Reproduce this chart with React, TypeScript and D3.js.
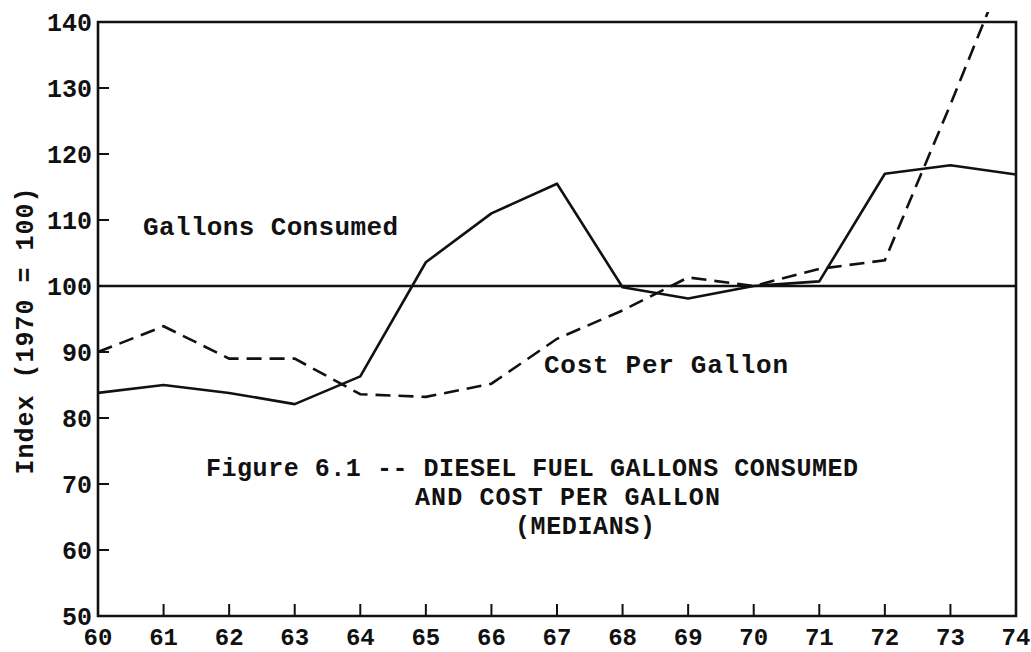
import React from 'react';
import * as d3 from 'd3';

const years = [60, 61, 62, 63, 64, 65, 66, 67, 68, 69, 70, 71, 72, 73, 74];
const gallons = [83.8, 85.0, 83.8, 82.1, 86.3, 103.6, 111.0, 115.5, 99.8, 98.1, 100.0, 100.7, 117.0, 118.3, 116.9];
const costPerGallon = [90.0, 93.9, 89.0, 89.0, 83.6, 83.2, 85.2, 92.0, 96.3, 101.3, 100.0, 102.6, 103.9, 127.5, 152.0];
const yTicks = [50, 60, 70, 80, 90, 100, 110, 120, 130, 140];
const captionLines = [
  'Figure 6.1 -- DIESEL FUEL GALLONS CONSUMED',
  'AND COST PER GALLON',
  '(MEDIANS)',
];

const W = 1031;
const H = 652;
const left = 98, right = 1016, top = 22, bottom = 616;
const font = '"Liberation Mono", "DejaVu Sans Mono", monospace';

export default function App() {
  const x = d3.scaleLinear().domain([60, 74]).range([left, right]);
  const y = d3.scaleLinear().domain([50, 140]).range([bottom, top]);

  const line = d3.line<number>()
    .x((d, i) => x(years[i]))
    .y(d => y(d));

  return (
    <svg width={W} height={H} style={{ position: 'absolute', left: 0, top: 0, background: '#fff' }}>
      <defs>
        <clipPath id="plot">
          <rect x={left} y={top - 10} width={right - left} height={bottom - top + 10} />
        </clipPath>
      </defs>

      {/* frame */}
      <path d={`M${left},${top}H${right}V${bottom}H${left}Z`} fill="none" stroke="#111" strokeWidth={2.6} />

      {/* y ticks */}
      {yTicks.map(t => (
        <g key={t}>
          {t > 50 && t < 140 && <line x1={left} x2={left + 11} y1={y(t)} y2={y(t)} stroke="#111" strokeWidth={2} />}
          <text x={92} y={y(t)} dy="0.35em" textAnchor="end" fontFamily={font} fontWeight="bold" fontSize={25} fill="#111">{t}</text>
        </g>
      ))}

      {/* x ticks */}
      {years.map(t => (
        <g key={t}>
          {t > 60 && t < 74 && <line x1={x(t)} x2={x(t)} y1={bottom} y2={bottom - 12} stroke="#111" strokeWidth={2} />}
          <text x={x(t)} y={645} textAnchor="middle" fontFamily={font} fontWeight="bold" fontSize={24} fill="#111">{t}</text>
        </g>
      ))}

      {/* 1970 = 100 reference */}
      <line x1={left} x2={right} y1={y(100)} y2={y(100)} stroke="#111" strokeWidth={2.6} />

      <g clipPath="url(#plot)">
        <path d={line(gallons) || ''} fill="none" stroke="#111" strokeWidth={2.6} strokeLinejoin="round" />
        <path d={line(costPerGallon) || ''} fill="none" stroke="#111" strokeWidth={2.6} strokeDasharray="15 8" />
      </g>

      <text x={143} y={235} fontFamily={font} fontWeight="bold" fontSize={26} fill="#111" textLength={255} lengthAdjust="spacing">Gallons Consumed</text>
      <text x={544} y={373} fontFamily={font} fontWeight="bold" fontSize={26} fill="#111" textLength={244} lengthAdjust="spacing">Cost Per Gallon</text>

      <text x={206} y={476} fontFamily={font} fontWeight="bold" fontSize={25} fill="#111" textLength={652} lengthAdjust="spacing">{captionLines[0]}</text>
      <text x={415} y={505} fontFamily={font} fontWeight="bold" fontSize={25} fill="#111" textLength={305} lengthAdjust="spacing">{captionLines[1]}</text>
      <text x={515} y={534} fontFamily={font} fontWeight="bold" fontSize={25} fill="#111" textLength={140} lengthAdjust="spacing">{captionLines[2]}</text>

      <text transform="translate(33,331) rotate(-90)" textAnchor="middle" fontFamily={font} fontWeight="bold" fontSize={25} fill="#111" textLength={287} lengthAdjust="spacing">Index (1970 = 100)</text>
    </svg>
  );
}
